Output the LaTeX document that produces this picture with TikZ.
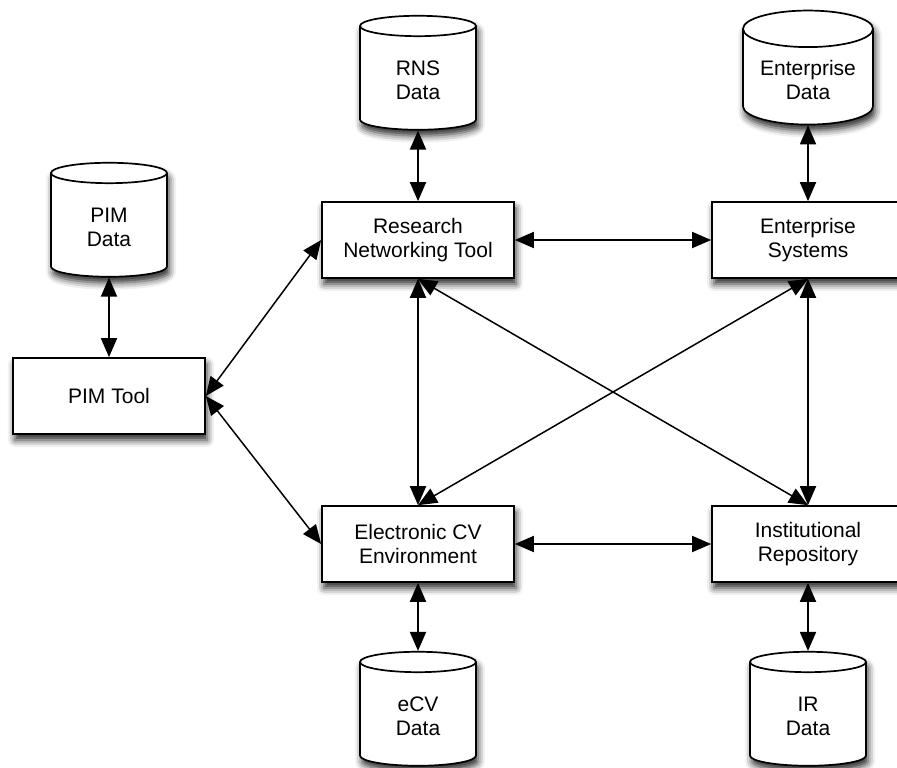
\documentclass[tikz,border=0pt]{standalone}
\usepackage{fontspec}
\setmainfont{Liberation Sans}
\usetikzlibrary{shapes.geometric,arrows.meta,shadows.blur}

\begin{document}
\begin{tikzpicture}[x=1pt, y=-1pt, <->, >={Triangle[length=19pt,width=16pt]},
    tool node/.style={rectangle, draw, fill=white, line width=1.7pt, minimum width=192pt, minimum height=76pt, align=center, font=\fontsize{21}{24}\selectfont, blur shadow={shadow xshift=2pt, shadow yshift=-6pt, shadow blur radius=7pt, shadow opacity=85}},
    data node/.style={cylinder, shape border rotate=90, aspect=0.4, draw, fill=white, line width=1.7pt, minimum width=116pt, minimum height=114pt, align=center, font=\fontsize{21}{24}\selectfont, blur shadow={shadow xshift=2pt, shadow yshift=-6pt, shadow blur radius=7pt, shadow opacity=85}}]

			\useasboundingbox (0,0) rectangle (897,768);
			\clip (0,0) rectangle (897,768);

			\node[tool node] (rnt) at (418,240) {Research\\Networking Tool};
			\node[tool node] (es) [right of=rnt, node distance=390pt] {Enterprise\\Systems};
			\node[tool node] (ecv) [below of=rnt, node distance=304pt] {Electronic CV\\Environment};
			\node[tool node] (ir) [right of=ecv, node distance=390pt] {Institutional\\Repository};
			\node[tool node] (pim) at (109,396) {PIM Tool};

			\node[data node] (rnsdata) [above of=rnt, node distance=160pt] {RNS\\Data};
			\node[data node, minimum width=130pt, aspect=0.357] (entdata) [above of=es, node distance=160pt] {Enterprise\\Data};
			\node[data node] (ecvdata) [below of=ecv, node distance=172pt] {eCV\\Data};
			\node[data node] (irdata) [below of=ir, node distance=172pt] {IR\\Data};
			\node[data node] (pimdata) [above of=pim, node distance=169pt] {PIM\\Data};

			% tools and their data
			\draw[line width=1.9pt] (pimdata) -- (pim);
			\draw[line width=1.9pt] (rnsdata) -- (rnt);
			\draw[line width=1.9pt] (entdata) -- (es);
			\draw[line width=1.9pt] (ecv) -- (ecvdata);
			\draw[line width=1.9pt] (ir) -- (irdata);

			% PIM Tool links
			\draw[line width=1.5pt] (pim.east) -- (rnt.west);
			\draw[line width=1.5pt] (pim.east) -- (ecv.west);

			% between the tools
			\draw[line width=1.9pt] (rnt) -- (es);
			\draw[line width=1.9pt] (ecv) -- (ir);
			\draw[line width=1.9pt] (rnt) -- (ecv);
			\draw[line width=1.9pt] (es) -- (ir);
			\draw[line width=1.5pt] (rnt.south) -- (ir.north);
			\draw[line width=1.5pt] (es.south) -- (ecv.north);

		\end{tikzpicture}
\end{document}
